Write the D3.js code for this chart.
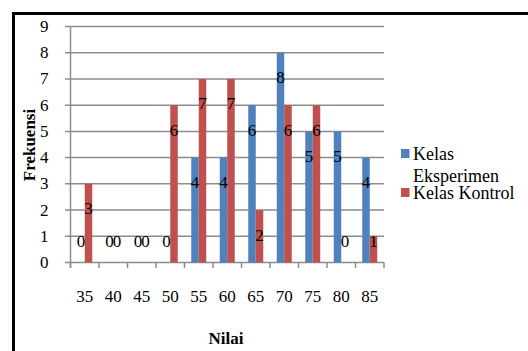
<!DOCTYPE html>
<html>
<head>
<meta charset="utf-8">
<script src="https://cdn.jsdelivr.net/npm/d3@7"></script>
<style>
  html, body { margin: 0; padding: 0; background: #fff; }
  svg { display: block; }
</style>
</head>
<body>
<svg id="chart" width="528" height="351"></svg>
<script>
const categories = ["35", "40", "45", "50", "55", "60", "65", "70", "75", "80", "85"];
const seriesNames = ["Kelas Eksperimen", "Kelas Kontrol"];
const eksperimen = [0, 0, 0, 0, 4, 4, 6, 8, 5, 5, 4];
const kontrol = [3, 0, 0, 6, 7, 7, 2, 6, 6, 0, 1];
const yTicks = [0, 1, 2, 3, 4, 5, 6, 7, 8, 9];
const colors = ["#4F81BD", "#C0504D"];

const FONT = "'Liberation Serif'";
const seriesValues = [eksperimen, kontrol];
const svg = d3.select("#chart");

// outer border
svg.append("rect")
  .attr("x", 13.5).attr("y", 13.5)
  .attr("width", 540).attr("height", 360)
  .attr("fill", "none").attr("stroke", "#000").attr("stroke-width", 3);

const x = d3.scaleBand().domain(categories).range([70.5, 384]).padding(0);
const xs = d3.scaleBand().domain(seriesNames).range([0, x.bandwidth()]).paddingInner(0).paddingOuter(0.9);
const y = d3.scaleLinear().domain([0, 9]).range([262.5, 26.5]);

// gridlines
svg.append("g").selectAll("line").data(yTicks).join("line")
  .attr("x1", 65).attr("x2", 384)
  .attr("y1", d => y(d)).attr("y2", d => y(d))
  .attr("stroke", "#8c8c8c").attr("stroke-width", 1.5);

// y axis line
svg.append("line")
  .attr("x1", x.range()[0]).attr("x2", x.range()[0])
  .attr("y1", y(9)).attr("y2", y(0) + 5)
  .attr("stroke", "#8c8c8c").attr("stroke-width", 1.5);

// x tick marks at category boundaries
const bounds = categories.map(c => x(c)).concat([x.range()[1]]);
svg.append("g").selectAll("line").data(bounds).join("line")
  .attr("x1", d => d).attr("x2", d => d)
  .attr("y1", y(0)).attr("y2", y(0) + 5.5)
  .attr("stroke", "#8c8c8c").attr("stroke-width", 1.5);

function txt(sel) {
  return sel.style("font-family", FONT).attr("fill", "#000");
}

// y tick labels
txt(svg.append("g").selectAll("text").data(yTicks).join("text"))
  .attr("x", 48.5).attr("y", d => y(d))
  .attr("text-anchor", "end").attr("dominant-baseline", "central")
  .attr("font-size", 17).text(d => d);

// x tick labels
txt(svg.append("g").selectAll("text").data(categories).join("text"))
  .attr("x", d => x(d) + x.bandwidth() / 2).attr("y", 302)
  .attr("text-anchor", "middle").attr("font-size", 17).text(d => d);

// bars
const barData = [];
seriesNames.forEach((s, si) => {
  categories.forEach((c, ci) => {
    barData.push({ s, si, c, v: seriesValues[si][ci] });
  });
});

svg.append("g").selectAll("rect").data(barData).join("rect")
  .attr("x", d => x(d.c) + xs(d.s))
  .attr("width", xs.bandwidth())
  .attr("y", d => y(d.v))
  .attr("height", d => y(0) - y(d.v))
  .attr("fill", d => colors[d.si]);

// data labels
txt(svg.append("g").selectAll("text").data(barData).join("text"))
  .attr("x", d => x(d.c) + xs(d.s) + xs.bandwidth() / 2)
  .attr("y", d => Math.min(y(d.v) + 25, y(0) - 21.5))
  .attr("text-anchor", "middle").attr("dominant-baseline", "central")
  .attr("font-size", 17).text(d => d.v);

// axis titles
txt(svg.append("text"))
  .attr("x", 226).attr("y", 344)
  .attr("text-anchor", "middle").attr("font-size", 17).attr("font-weight", "bold")
  .text("Nilai");

txt(svg.append("text"))
  .attr("transform", "translate(35,145) rotate(-90)")
  .attr("text-anchor", "middle").attr("font-size", 17).attr("font-weight", "bold")
  .text("Frekuensi");

// legend
const legend = svg.append("g");
legend.append("rect").attr("x", 401).attr("y", 149).attr("width", 8.5).attr("height", 9).attr("fill", colors[0]);
txt(legend.append("text")).attr("x", 413).attr("y", 159.5).attr("font-size", 18).text("Kelas");
txt(legend.append("text")).attr("x", 413).attr("y", 181.5).attr("font-size", 18).text("Eksperimen");
legend.append("rect").attr("x", 401).attr("y", 188).attr("width", 8.5).attr("height", 9).attr("fill", colors[1]);
txt(legend.append("text")).attr("x", 413).attr("y", 199).attr("font-size", 18).text("Kelas Kontrol");
</script>
</body>
</html>
